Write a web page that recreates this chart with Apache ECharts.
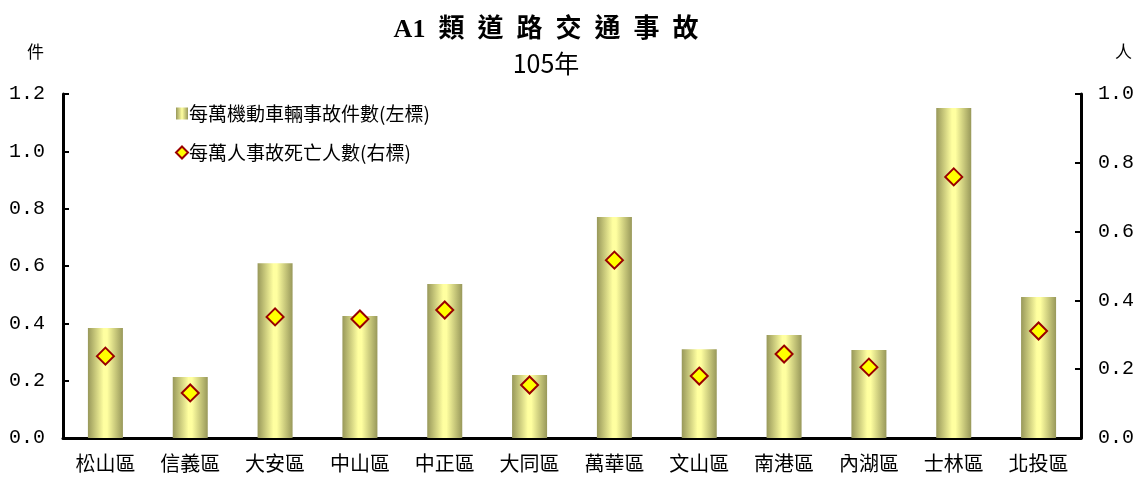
<!DOCTYPE html>
<html><head><meta charset="utf-8">
<script src="https://cdn.jsdelivr.net/npm/echarts@6/dist/echarts.min.js"></script>
<style>html,body{margin:0;padding:0;background:#fff}#c{width:1137px;height:477px}</style>
</head><body><div id="c"></div>
<script>
const categories = ['松山區','信義區','大安區','中山區','中正區','大同區','萬華區','文山區','南港區','內湖區','士林區','北投區'];
const accidentsPerVehicle = [0.384,0.213,0.610,0.426,0.537,0.220,0.771,0.310,0.359,0.307,1.151,0.492];
const deathsPerPerson = [0.238,0.131,0.352,0.346,0.372,0.154,0.517,0.180,0.244,0.206,0.759,0.311];
const leftTicks = {min:0,max:1.2,interval:0.2};
const rightTicks = {min:0,max:1.0,interval:0.2};

const chart = echarts.init(document.getElementById('c'));
const numFont = {fontFamily:'Liberation Mono', fontSize:20, color:'#000'};
const cjk = '"Noto Sans CJK TC", sans-serif';
chart.setOption({
  animation:false,
  backgroundColor:'#fff',
  title:[
    {text:'A1  類  道  路  交  通  事  故', left:541, top:12, textAlign:'center',
     textStyle:{fontFamily:'"Liberation Serif", "Noto Sans CJK TC"', fontWeight:'bold', fontSize:26, color:'#000'}},
    {text:'105年', left:541, top:46, textAlign:'center',
     textStyle:{fontFamily:'"Liberation Sans Narrow", "Noto Sans CJK TC"', fontWeight:'normal', fontSize:25, color:'#000'}},
    {text:'件', left:22, top:38, textStyle:{fontFamily:cjk, fontWeight:'normal', fontSize:17, color:'#000'}},
    {text:'人', left:1110, top:38, textStyle:{fontFamily:cjk, fontWeight:'normal', fontSize:17, color:'#000'}}
  ],
  legend:{
    orient:'vertical', left:170, top:99, itemGap:20, itemWidth:12, itemHeight:12,
    textStyle:{fontFamily:cjk, fontSize:19, color:'#000', padding:[0,0,0,-4]},
    data:[{name:'每萬機動車輛事故件數(左標)', icon:'rect', itemStyle:{color:{type:'linear',x:0,y:0,x2:1,y2:0,colorStops:[{offset:0,color:'#98985a'},{offset:0.5,color:'#ffffa0'},{offset:1,color:'#98985a'}]}}},
          {name:'每萬人事故死亡人數(右標)', icon:'diamond'}]
  },
  grid:{left:63, right:55, top:94, bottom:39},
  xAxis:{type:'category', data:categories,
    axisLine:{lineStyle:{color:'#000', width:3}},
    axisTick:{show:false},
    axisLabel:{fontFamily:cjk, fontSize:20, color:'#000', margin:15}},
  yAxis:[
    {type:'value', min:leftTicks.min, max:leftTicks.max, interval:leftTicks.interval, position:'left',
     axisLine:{show:true, lineStyle:{color:'#000', width:3}},
     axisTick:{show:true, inside:true, length:6, lineStyle:{color:'#000', width:2}},
     splitLine:{show:false},
     axisLabel:Object.assign({margin:18, formatter:v=>v.toFixed(1)}, numFont)},
    {type:'value', min:rightTicks.min, max:rightTicks.max, interval:rightTicks.interval, position:'right',
     axisLine:{show:true, lineStyle:{color:'#000', width:3}},
     axisTick:{show:true, inside:true, length:6, lineStyle:{color:'#000', width:2}},
     splitLine:{show:false},
     axisLabel:Object.assign({margin:17, formatter:v=>v.toFixed(1)}, numFont)}
  ],
  series:[
    {name:'每萬機動車輛事故件數(左標)', type:'bar', yAxisIndex:0, data:accidentsPerVehicle, barWidth:35,
     itemStyle:{color:{type:'linear',x:0,y:0,x2:1,y2:0,colorStops:[{offset:0,color:'#98985a'},{offset:0.45,color:'#ffffa0'},{offset:0.55,color:'#ffffa0'},{offset:1,color:'#98985a'}]}}},
    {name:'每萬人事故死亡人數(右標)', type:'line', yAxisIndex:1, data:deathsPerPerson,
     lineStyle:{opacity:0}, symbol:'diamond', symbolSize:17,
     itemStyle:{color:'#ffff00', borderColor:'#990000', borderWidth:2}}
  ]
});
</script></body></html>
